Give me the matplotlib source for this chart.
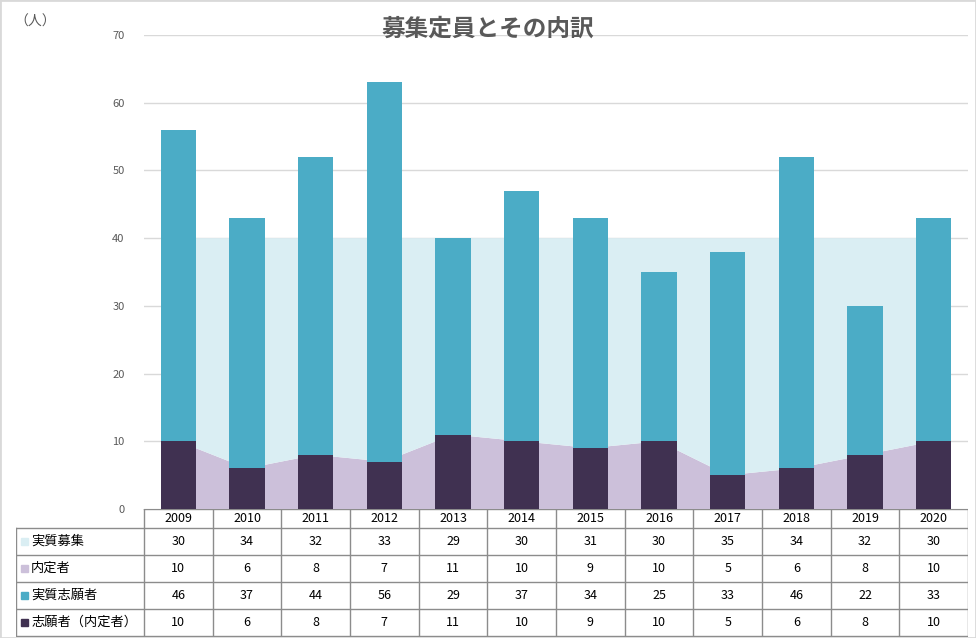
import numpy as np
import matplotlib.pyplot as plt
from matplotlib.patches import Rectangle

plt.rcParams['font.family'] = ['Noto Sans CJK JP', 'DejaVu Sans']

years = ['2009', '2010', '2011', '2012', '2013', '2014', '2015', '2016',
         '2017', '2018', '2019', '2020']
jisshitsu_boshu = [30, 34, 32, 33, 29, 30, 31, 30, 35, 34, 32, 30]
naiteisha = [10, 6, 8, 7, 11, 10, 9, 10, 5, 6, 8, 10]
jisshitsu_shigan = [46, 37, 44, 56, 29, 37, 34, 25, 33, 46, 22, 33]
shigan_naitei = [10, 6, 8, 7, 11, 10, 9, 10, 5, 6, 8, 10]

series_names = ['実質募集', '内定者', '実質志願者', '志願者（内定者）']
series_vals = [jisshitsu_boshu, naiteisha, jisshitsu_shigan, shigan_naitei]
colors = ['#DAEEF3', '#CCC0DA', '#4BACC6', '#403151']

W, H = 976, 638
fig = plt.figure(figsize=(W / 100, H / 100), dpi=100)

def px_axes(x0, y0, x1, y1):
    # pixel box (top-left origin) -> figure axes
    return fig.add_axes([x0 / W, 1 - y1 / H, (x1 - x0) / W, (y1 - y0) / H])

x = np.arange(len(years))

# main chart
ax = px_axes(144, 35, 968, 509)
ax.stackplot(x, naiteisha, jisshitsu_boshu, colors=[colors[1], colors[0]],
             linewidth=0, zorder=1)
ax.bar(x, shigan_naitei, width=0.51, color=colors[3], zorder=2)
ax.bar(x, jisshitsu_shigan, width=0.51, bottom=shigan_naitei,
       color=colors[2], zorder=2)
ax.set_xlim(-0.5, 11.5)
ax.set_ylim(0, 70)
ax.set_yticks(range(0, 71, 10))
ax.yaxis.grid(True, color='#d9d9d9', linewidth=1)
ax.set_axisbelow(True)
ax.set_xticks([])
ax.tick_params(axis='y', length=0, pad=14, labelsize=8, labelcolor='#595959')
for s in ax.spines.values():
    s.set_visible(False)

# data table under the chart
tab = px_axes(16, 509, 968, 637)
lab_w = 128 / ((968 - 144) / 12)
tab.set_xlim(-0.5 - lab_w, 11.5)
tab.set_ylim(128, 0)
tab.axis('off')
lc = '#8c8c8c'
row_y = [0, 19, 46, 73, 100, 127]
# header
tab.plot([-0.5, 11.5], [0, 0], color=lc, lw=1)
for i in range(13):
    tab.plot([i - 0.5, i - 0.5], [0, 127], color=lc, lw=1)
for yy in row_y[1:]:
    tab.plot([-0.5 - lab_w, 11.5], [yy, yy], color=lc, lw=1)
tab.plot([-0.5 - lab_w, -0.5 - lab_w], [19, 127], color=lc, lw=1)
for i, yr in enumerate(years):
    tab.text(i, 9.5, yr, ha='center', va='center', fontsize=9, color='#000000')
for r, (name, vals, c) in enumerate(zip(series_names, series_vals, colors)):
    yc = (row_y[r + 1] + row_y[r + 2]) / 2
    tab.add_patch(Rectangle((-0.5 - lab_w + 0.07, yc - 4), 0.1, 7, color=c,
                            clip_on=False))
    tab.text(-0.5 - lab_w + 0.22, yc, name, ha='left', va='center',
             fontsize=9.5, color='#000000')
    for i, v in enumerate(vals):
        tab.text(i, yc, str(v), ha='center', va='center', fontsize=9,
                 color='#000000')

fig.text(488 / W, 1 - 29 / H, '募集定員とその内訳', ha='center', va='center',
         fontsize=17, fontweight='bold', color='#595959')
fig.text(35 / W, 1 - 22 / H, '（人）', ha='center', va='center',
         fontsize=10, color='#595959')

fig.patches.append(Rectangle((0, 0), 1, 1, transform=fig.transFigure,
                             fill=False, edgecolor='#d9d9d9', lw=2))

fig.savefig('out.png', dpi=100)
